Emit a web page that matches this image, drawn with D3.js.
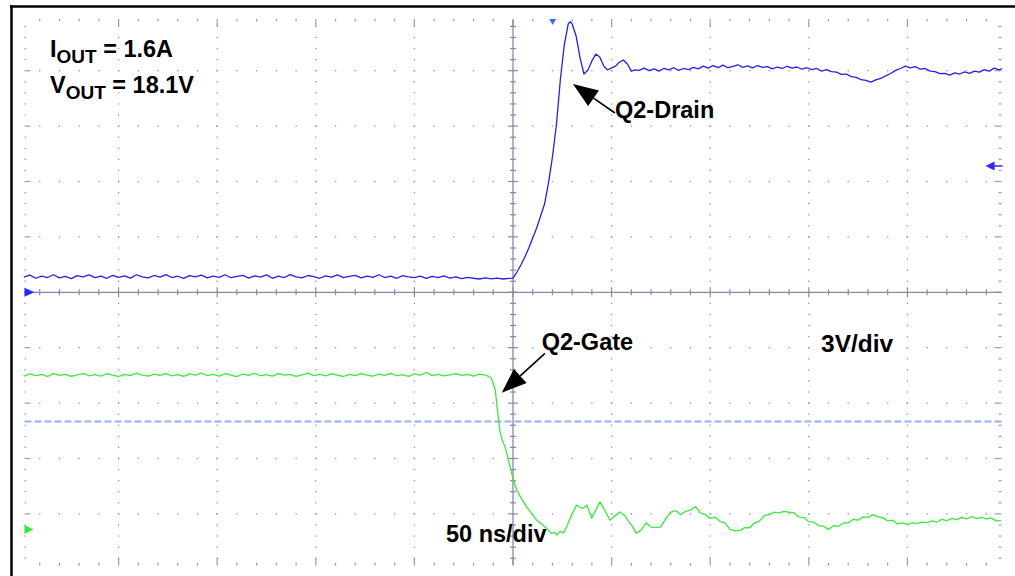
<!DOCTYPE html>
<html>
<head>
<meta charset="utf-8">
<script src="https://cdn.jsdelivr.net/npm/d3@7/dist/d3.min.js"></script>
<style>
  body { margin: 0; background: #fff; }
  svg { display: block; }
  .label { font-family: "Liberation Sans", Arial, sans-serif; font-weight: bold; fill: #000; }
</style>
</head>
<body>
<svg id="scope" width="1015" height="576"></svg>
<script>

/**
 * scope capture : Q2 drain / gate switching, 50 ns/div, 3V/div
 * traces are [time ns, volts]
 */
var drain_trace = [
  [-248, 0.82], [-245, 0.93], [-242, 0.76], [-239, 0.88], [-236, 0.80], [-233, 0.95], [-230, 0.78], [-227, 0.86],
  [-224, 0.74], [-221, 0.90], [-218, 0.83], [-215, 0.94], [-212, 0.79], [-209, 0.87], [-206, 0.76], [-203, 0.92],
  [-200, 0.81], [-197, 0.89], [-194, 0.77], [-191, 0.95], [-188, 0.84], [-185, 0.78], [-182, 0.91], [-179, 0.82],
  [-176, 0.96], [-173, 0.80], [-170, 0.87], [-167, 0.75], [-164, 0.90], [-161, 0.83], [-158, 0.93], [-155, 0.78],
  [-152, 0.88], [-149, 0.81], [-146, 0.95], [-143, 0.79], [-140, 0.86], [-137, 0.92], [-134, 0.77], [-131, 0.89],
  [-128, 0.82], [-125, 0.94], [-122, 0.76], [-119, 0.87], [-116, 0.80], [-113, 0.96], [-110, 0.83], [-107, 0.78],
  [-104, 0.91], [-101, 0.85], [-98, 0.76], [-95, 0.89], [-92, 0.82], [-89, 0.94], [-86, 0.79], [-83, 0.86],
  [-80, 0.92], [-77, 0.78], [-74, 0.88], [-71, 0.81], [-68, 0.95], [-65, 0.80], [-62, 0.87], [-59, 0.76],
  [-56, 0.90], [-53, 0.84], [-50, 0.79], [-47, 0.88], [-44, 0.75], [-41, 0.86], [-38, 0.80], [-35, 0.89],
  [-32, 0.77], [-29, 0.84], [-26, 0.74], [-23, 0.81], [-20, 0.76], [-17, 0.72], [-14, 0.78], [-11, 0.73],
  [-8, 0.77], [-5, 0.72], [-2, 0.75], [0, 0.77],
  [2, 1.10], [4, 1.48], [6, 1.91], [8, 2.40], [10, 2.94], [12, 3.48], [14, 4.13], [16, 4.78],
  [18, 5.92], [20, 7.33], [22, 9.06], [24, 11.5], [26, 13.4], [28, 14.53], [29, 14.66], [30, 14.53],
  [32, 13.88], [34, 12.69], [36, 11.82], [38, 12.04], [40, 12.53], [42, 12.90], [44, 12.74], [46, 12.25],
  [48, 12.04], [50, 12.15], [52, 12.25], [54, 12.47], [56, 12.58], [58, 12.36], [60, 11.98], [62, 12.04],
  [64, 12.02], [66.5, 12.14], [69, 12.00], [71.5, 12.10], [74, 11.98], [76.5, 12.12], [79, 12.04], [81.5, 12.16],
  [84, 12.02], [86.5, 12.12], [89, 12.06], [91.5, 12.18], [94, 12.10], [96.5, 12.25], [99, 12.14], [101.5, 12.28],
  [104, 12.17], [106.5, 12.30], [109, 12.16], [111.5, 12.24], [114, 12.32], [116.5, 12.18], [119, 12.26], [121.5, 12.15],
  [124, 12.28], [126.5, 12.18], [129, 12.22], [131.5, 12.10], [134, 12.20], [136.5, 12.12], [139, 12.24], [141.5, 12.14],
  [144, 12.20], [146.5, 12.08], [149, 12.16], [151.5, 12.06], [154, 12.12], [156.5, 11.98], [159, 12.06], [161.5, 11.95],
  [164, 11.92], [166.5, 11.80], [169, 11.82], [171.5, 11.68], [174, 11.64], [176.5, 11.52], [179, 11.48], [181.5, 11.38],
  [184, 11.50], [186.5, 11.58], [189, 11.72], [191.5, 11.85], [194, 12.02], [196.5, 12.12], [199, 12.25], [201.5, 12.15],
  [204, 12.22], [206.5, 12.08], [209, 12.12], [211.5, 11.98], [214, 11.95], [216.5, 11.84], [219, 11.86], [221.5, 11.76],
  [224, 11.88], [226.5, 11.82], [229, 11.94], [231.5, 11.86], [234, 11.98], [236.5, 11.92], [239, 12.06], [241.5, 11.98],
  [244, 12.14], [246.5, 12.04], [248, 12.12]
];

var gate_trace = [
  [-248, 8.30], [-245, 8.42], [-242, 8.33], [-239, 8.39], [-236, 8.28], [-233, 8.44], [-230, 8.34], [-227, 8.40],
  [-224, 8.29], [-221, 8.37], [-218, 8.45], [-215, 8.32], [-212, 8.38], [-209, 8.30], [-206, 8.43], [-203, 8.35],
  [-200, 8.28], [-197, 8.40], [-194, 8.33], [-191, 8.46], [-188, 8.36], [-185, 8.30], [-182, 8.41], [-179, 8.34],
  [-176, 8.44], [-173, 8.31], [-170, 8.38], [-167, 8.29], [-164, 8.42], [-161, 8.35], [-158, 8.47], [-155, 8.33],
  [-152, 8.39], [-149, 8.30], [-146, 8.43], [-143, 8.36], [-140, 8.28], [-137, 8.41], [-134, 8.34], [-131, 8.45],
  [-128, 8.32], [-125, 8.38], [-122, 8.30], [-119, 8.44], [-116, 8.35], [-113, 8.40], [-110, 8.29], [-107, 8.37],
  [-104, 8.46], [-101, 8.33], [-98, 8.39], [-95, 8.31], [-92, 8.42], [-89, 8.35], [-86, 8.28], [-83, 8.40],
  [-80, 8.33], [-77, 8.44], [-74, 8.36], [-71, 8.30], [-68, 8.41], [-65, 8.34], [-62, 8.45], [-59, 8.32],
  [-56, 8.38], [-53, 8.29], [-50, 8.42], [-47, 8.35], [-44, 8.51], [-41, 8.33], [-38, 8.40], [-35, 8.31],
  [-32, 8.37], [-29, 8.44], [-26, 8.34], [-23, 8.39], [-20, 8.30], [-17, 8.41], [-14, 8.36],
  [-11, 8.20], [-9, 7.55], [-7.5, 6.10], [-6.6, 5.29], [-5.5, 4.85], [-4.1, 4.48], [-3, 4.05], [-1.5, 3.39],
  [0.2, 2.67], [1.9, 2.13], [4, 1.72], [6.9, 1.22], [9.5, 0.85], [12, 0.50], [14.5, 0.30], [17, 0.05],
  [19.6, -0.22], [21, -0.15], [22.2, -0.31], [24, -0.10], [25.5, -0.20], [27.2, 0.14], [29, 0.60], [30.5, 0.95],
  [32.3, 1.32], [34, 1.20], [35.7, 1.14], [37.4, 1.32], [38.6, 1.00], [39.9, 0.60], [41.5, 0.95], [44.1, 1.49],
  [46.5, 1.05], [49.2, 0.50], [51.5, 0.72], [54.3, 0.95], [56.8, 0.72], [59.3, 0.32],
  [60, 0.26], [62.5, -0.20], [65, -0.04], [67.5, 0.36], [70, 0.12], [72.5, 0.10], [75, 0.14], [77.5, 0.60],
  [80, 0.94], [82.5, 1.02], [85, 0.80], [87.5, 0.98], [90, 1.05], [92.5, 1.24], [95, 0.90], [97.5, 0.80],
  [100, 0.60], [102.5, 0.66], [105, 0.44], [107.5, 0.35], [110, 0.00], [112.5, -0.08], [115, -0.05], [117.5, 0.10],
  [120, 0.09], [122.5, 0.36], [125, 0.45], [127.5, 0.76], [130, 0.80], [132.5, 0.94], [135, 0.90], [137.5, 0.98],
  [140, 0.93], [142.5, 0.90], [145, 0.67], [147.5, 0.65], [150, 0.42], [152.5, 0.40], [155, 0.20], [157.5, 0.17],
  [160, 0.00], [162.5, 0.20], [165, 0.17], [167.5, 0.35], [170, 0.35], [172.5, 0.55], [175, 0.50], [177.5, 0.68],
  [180, 0.65], [182.5, 0.80], [185, 0.68], [187.5, 0.64], [190, 0.46], [192.5, 0.50], [195, 0.30], [197.5, 0.35],
  [200, 0.27], [202.5, 0.35], [205, 0.33], [207.5, 0.40], [210, 0.37], [212.5, 0.46], [215, 0.40], [217.5, 0.55],
  [220, 0.47], [222.5, 0.60], [225, 0.53], [227.5, 0.65], [230, 0.57], [232.5, 0.70], [235, 0.58], [237.5, 0.65],
  [240, 0.57], [242.5, 0.62], [245, 0.46], [247.5, 0.48]
];

// channel settings (volts/div, ground offset in divisions)
var volts_per_div = 3;
var ns_per_div = 50;
var drain_offset_div = 0;
var gate_offset_div = -4.28;
var trigger_time = 20.1;       // ns
var trigger_level_div = 2.28;  // div, on drain channel
var ref_level_div = -2.33;     // dashed reference line

var annotations = [
  { 'name' : 'Q2-Drain', 'channel' : 'drain', 'tip' : [30.4, 11.28], 'tail' : [51.7, 9.71] },
  { 'name' : 'Q2-Gate',  'channel' : 'gate',  'tip' : [-5.7, 7.40],  'tail' : [16.2, 9.53] }
];

var svg = d3.select('#scope');

var x = d3.scaleLinear().domain([-5 * ns_per_div, 5 * ns_per_div]).range([20, 1006]);
var grid_y = d3.scaleLinear().domain([-5, 5]).range([569.3, 15.3]);

function xDiv(d) {
  return x(d * ns_per_div);
}

function channelY(offset_div) {
  return function(v) {
    return grid_y(offset_div + v / volts_per_div);
  };
}

var y_drain = channelY(drain_offset_div);
var y_gate = channelY(gate_offset_div);

/**
 * graticule
 */
var grid_color = '#9a9db0';
var axis_color = '#858ba6';
var edge_x = 4.955, edge_top = 4.915, edge_bottom = -4.92;
var majors = [-4, -3, -2, -1, 1, 2, 3, 4];
var minors = d3.range(-48, 49, 2).map(function(d) { return d / 10; });

function isMajor(d) {
  return Math.abs(d % 1) < 0.01;
}

var g_grid = svg.append('g');

// dotted major columns
majors.forEach(function(k) {
  g_grid.selectAll(null).data(minors).enter().append('rect')
    .attr('x', xDiv(k) - 0.7).attr('y', function(d) { return grid_y(d) - 0.7; })
    .attr('width', 1.4).attr('height', 1.4).attr('fill', grid_color);
});
// dotted major rows
majors.forEach(function(k) {
  g_grid.selectAll(null).data(minors).enter().append('rect')
    .attr('x', function(d) { return xDiv(d) - 0.7; }).attr('y', grid_y(k) - 0.7)
    .attr('width', 1.4).attr('height', 1.4).attr('fill', grid_color);
});

// left / right edges
g_grid.selectAll(null).data(minors).enter().append('line')
  .attr('x1', xDiv(-edge_x)).attr('x2', function(d) { return xDiv(-edge_x) + (isMajor(d) ? 6 : 1.5); })
  .attr('y1', function(d) { return grid_y(d); }).attr('y2', function(d) { return grid_y(d); })
  .attr('stroke', grid_color).attr('stroke-width', 1.2);
g_grid.selectAll(null).data(minors).enter().append('line')
  .attr('x1', xDiv(edge_x)).attr('x2', function(d) { return xDiv(edge_x) - (isMajor(d) ? 7 : 3); })
  .attr('y1', function(d) { return grid_y(d); }).attr('y2', function(d) { return grid_y(d); })
  .attr('stroke', grid_color).attr('stroke-width', 1.2);

// top / bottom edges
g_grid.selectAll(null).data(minors).enter().append('line')
  .attr('x1', function(d) { return xDiv(d); }).attr('x2', function(d) { return xDiv(d); })
  .attr('y1', grid_y(edge_top) - 1).attr('y2', function(d) { return grid_y(edge_top) + (isMajor(d) ? 6 : 1.5); })
  .attr('stroke', grid_color).attr('stroke-width', 1.2);
g_grid.selectAll(null).data(minors).enter().append('line')
  .attr('x1', function(d) { return xDiv(d); }).attr('x2', function(d) { return xDiv(d); })
  .attr('y1', grid_y(edge_bottom) + 1).attr('y2', function(d) { return grid_y(edge_bottom) - (isMajor(d) ? 7 : 2); })
  .attr('stroke', grid_color).attr('stroke-width', 1.2);

// center axes with ticks
g_grid.append('line')
  .attr('x1', xDiv(-edge_x)).attr('x2', xDiv(edge_x)).attr('y1', grid_y(0)).attr('y2', grid_y(0))
  .attr('stroke', axis_color).attr('stroke-width', 1.3);
g_grid.append('line')
  .attr('x1', xDiv(0)).attr('x2', xDiv(0)).attr('y1', grid_y(edge_top)).attr('y2', grid_y(edge_bottom))
  .attr('stroke', axis_color).attr('stroke-width', 1.3);
g_grid.selectAll(null).data(minors).enter().append('line')
  .attr('x1', function(d) { return xDiv(d); }).attr('x2', function(d) { return xDiv(d); })
  .attr('y1', function(d) { return grid_y(0) - (isMajor(d) ? 5 : 3); })
  .attr('y2', function(d) { return grid_y(0) + (isMajor(d) ? 5 : 3); })
  .attr('stroke', axis_color).attr('stroke-width', 1.2);
g_grid.selectAll(null).data(minors).enter().append('line')
  .attr('y1', function(d) { return grid_y(d); }).attr('y2', function(d) { return grid_y(d); })
  .attr('x1', function(d) { return xDiv(0) - (isMajor(d) ? 5 : 3); })
  .attr('x2', function(d) { return xDiv(0) + (isMajor(d) ? 5 : 3); })
  .attr('stroke', axis_color).attr('stroke-width', 1.2);

// dashed reference level
svg.append('line')
  .attr('x1', xDiv(-edge_x)).attr('x2', xDiv(edge_x))
  .attr('y1', grid_y(ref_level_div)).attr('y2', grid_y(ref_level_div))
  .attr('stroke', '#8fb2ee').attr('stroke-width', 2).attr('stroke-dasharray', '7,3');

/**
 * traces
 */
function traceLine(y_fn) {
  return d3.line()
    .x(function(d) { return x(d[0]); })
    .y(function(d) { return y_fn(d[1]); });
}

svg.append('path').datum(drain_trace)
  .attr('d', traceLine(y_drain))
  .attr('fill', 'none').attr('stroke', '#2222e6').attr('stroke-width', 1.3).attr('stroke-linejoin', 'round');

svg.append('path').datum(gate_trace)
  .attr('d', traceLine(y_gate))
  .attr('fill', 'none').attr('stroke', '#3ce83c').attr('stroke-width', 1.3).attr('stroke-linejoin', 'round');

/**
 * channel / trigger markers
 */
var left_x = xDiv(-edge_x);
svg.append('path')
  .attr('d', 'M' + left_x + ',' + (y_drain(0) - 4.5) + 'L' + (left_x + 10) + ',' + y_drain(0) + 'L' + left_x + ',' + (y_drain(0) + 4.5) + 'Z')
  .attr('fill', '#2a2aff');
svg.append('path')
  .attr('d', 'M' + left_x + ',' + (y_gate(0) - 4.5) + 'L' + (left_x + 9) + ',' + y_gate(0) + 'L' + left_x + ',' + (y_gate(0) + 4.5) + 'Z')
  .attr('fill', '#35e835');

var right_x = xDiv(edge_x);
var trig_y = grid_y(trigger_level_div);
svg.append('line')
  .attr('x1', right_x - 9).attr('x2', right_x + 1).attr('y1', trig_y).attr('y2', trig_y)
  .attr('stroke', '#2a2aff').attr('stroke-width', 1.5);
svg.append('path')
  .attr('d', 'M' + (right_x - 16) + ',' + trig_y + 'L' + (right_x - 7) + ',' + (trig_y - 4.5) + 'L' + (right_x - 7) + ',' + (trig_y + 4.5) + 'Z')
  .attr('fill', '#2a2aff');

var trig_x = x(trigger_time);
var top_y = grid_y(edge_top);
svg.append('path')
  .attr('d', 'M' + (trig_x - 3.5) + ',' + (top_y - 1) + 'L' + (trig_x + 3.5) + ',' + (top_y - 1) + 'L' + trig_x + ',' + (top_y + 5) + 'Z')
  .attr('fill', '#2f6ff2');

/**
 * labels
 */
var font_size = 23.5;
var sub_size = 19;

var t_iout = svg.append('text').attr('class', 'label').attr('x', 50).attr('y', 56.7).attr('font-size', font_size);
t_iout.append('tspan').text('I');
t_iout.append('tspan').attr('font-size', sub_size).attr('dy', 6).text('OUT');
t_iout.append('tspan').attr('dy', -6).text(' = 1.6A');

var t_vout = svg.append('text').attr('class', 'label').attr('x', 50).attr('y', 92.7).attr('font-size', font_size);
t_vout.append('tspan').text('V');
t_vout.append('tspan').attr('font-size', sub_size).attr('dy', 6).text('OUT');
t_vout.append('tspan').attr('dy', -6).text(' = 18.1V');

var plain_labels = [
  { 'text' : 'Q2-Drain', 'x' : 615, 'y' : 118.3 },
  { 'text' : 'Q2-Gate', 'x' : 541.7, 'y' : 350 },
  { 'text' : '3V/div', 'x' : 821, 'y' : 352.3, 'size' : 24.5 },
  { 'text' : '50 ns/div', 'x' : 446, 'y' : 541.7 }
];

svg.selectAll('text.plain').data(plain_labels).enter().append('text')
  .attr('class', 'label plain')
  .attr('x', function(d) { return d.x; })
  .attr('y', function(d) { return d.y; })
  .attr('font-size', function(d) { return d.size || font_size; })
  .text(function(d) { return d.text; });

/**
 * annotation arrows
 */
var head_len = 25, head_half = 9.5;

annotations.forEach(function(a) {
  var y_fn = (a.channel == 'drain') ? y_drain : y_gate;
  var tip = [x(a.tip[0]), y_fn(a.tip[1])];
  var tail = [x(a.tail[0]), y_fn(a.tail[1])];
  var dx = tail[0] - tip[0], dy = tail[1] - tip[1];
  var len = Math.sqrt(dx * dx + dy * dy);
  var ux = dx / len, uy = dy / len;
  var base = [tip[0] + ux * head_len, tip[1] + uy * head_len];

  svg.append('line')
    .attr('x1', base[0]).attr('y1', base[1]).attr('x2', tail[0]).attr('y2', tail[1])
    .attr('stroke', '#000').attr('stroke-width', 1.6);

  svg.append('path')
    .attr('d', 'M' + tip[0] + ',' + tip[1] +
      'L' + (base[0] - uy * head_half) + ',' + (base[1] + ux * head_half) +
      'L' + (base[0] + uy * head_half) + ',' + (base[1] - ux * head_half) + 'Z')
    .attr('fill', '#000');
});

/**
 * frame (left / top visible)
 */
svg.append('line').attr('x1', 10).attr('x2', 1015).attr('y1', 6.5).attr('y2', 6.5)
  .attr('stroke', '#000').attr('stroke-width', 2.5);
svg.append('line').attr('x1', 11.5).attr('x2', 11.5).attr('y1', 5.25).attr('y2', 576)
  .attr('stroke', '#000').attr('stroke-width', 2.5);

</script>
</body>
</html>
